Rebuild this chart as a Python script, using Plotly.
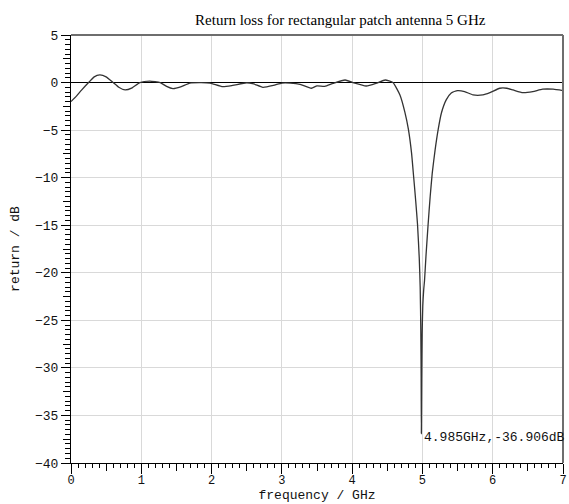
import plotly.graph_objects as go

freq_ghz = [0.0, 0.08, 0.15, 0.25, 0.33, 0.41, 0.5, 0.6, 0.68, 0.77, 0.87, 0.98,
            1.12, 1.27, 1.36, 1.45, 1.56, 1.69, 1.85, 1.98, 2.16, 2.3, 2.5, 2.6,
            2.73, 2.88, 3.0, 3.12, 3.26, 3.42, 3.5, 3.61, 3.73, 3.9, 4.01, 4.2,
            4.35, 4.47, 4.58, 4.68, 4.75, 4.80, 4.845, 4.875, 4.905, 4.93, 4.955,
            4.968, 4.977, 4.982, 4.985, 4.99, 4.996, 5.005, 5.018, 5.03, 5.05,
            5.08, 5.11, 5.14, 5.18, 5.225, 5.27, 5.34, 5.41, 5.5, 5.6, 5.72, 5.86,
            5.96, 6.1, 6.2, 6.29, 6.43, 6.57, 6.71, 6.86, 7.0]
return_db = [-2.0, -1.4, -0.8, 0.0, 0.6, 0.8, 0.6, 0.0, -0.5, -0.78, -0.55, 0.0,
             0.15, 0.0, -0.4, -0.63, -0.45, -0.05, 0.0, -0.05, -0.43, -0.3, -0.02, -0.15,
             -0.5, -0.3, -0.05, -0.05, -0.18, -0.6, -0.35, -0.4, -0.08, 0.27, 0.0, -0.36,
             -0.05, 0.27, 0.0, -1.3, -3.1, -4.9, -7.4, -9.9, -12.5, -14.9, -18.5,
             -21.5, -26.0, -31.0, -36.906, -31.0, -26.5, -23.5, -21.8, -20.8, -18.3,
             -15.0, -12.0, -9.5, -7.1, -4.9, -3.2, -1.8, -1.1, -0.85, -0.95, -1.3, -1.3,
             -1.06, -0.6, -0.6, -0.78, -1.06, -0.95, -0.7, -0.7, -0.85]

x_major = [0, 1, 2, 3, 4, 5, 6, 7]
x_mid = [0.5, 1.5, 2.5, 3.5, 4.5, 5.5, 6.5]
y_major = [5, 0, -5, -10, -15, -20, -25, -30, -35, -40]
y_mid = [2.5, -2.5, -7.5, -12.5, -17.5, -22.5, -27.5, -32.5, -37.5]

marker_f = 4.985
marker_db = -36.906
marker_text = "4.985GHz,-36.906dB"
title_text = "Return loss for rectangular patch antenna 5 GHz"

mono = "Liberation Mono"

fig = go.Figure()
fig.add_trace(go.Scatter(x=freq_ghz, y=return_db, mode="lines",
                         line=dict(color="#333333", width=1.3, shape="spline", smoothing=0.5),
                         showlegend=False, hoverinfo="skip"))
fig.add_trace(go.Scatter(x=[None], y=[None], xaxis="x2", yaxis="y2",
                         showlegend=False, hoverinfo="skip"))

fig.add_annotation(x=marker_f, y=marker_db, text=marker_text, showarrow=False,
                   xanchor="left", yanchor="middle", xshift=1, yshift=-4,
                   font=dict(family=mono, size=13, color="#111111"))

fig.add_shape(type="line", xref="paper", yref="paper", x0=0, x1=1, y0=1, y1=1,
              line=dict(color="#6e6e6e", width=2))
fig.add_shape(type="line", xref="paper", yref="paper", x0=1, x1=1, y0=0, y1=1,
              line=dict(color="#6e6e6e", width=2))

fig.update_layout(
    width=569, height=504,
    margin=dict(l=71, r=6, t=35, b=41),
    paper_bgcolor="white", plot_bgcolor="white",
    title=dict(text=title_text, x=0.598, xref="container", xanchor="center",
               y=0.96, yref="container", yanchor="middle",
               font=dict(family="Liberation Serif", size=15, color="black")),
    xaxis=dict(range=[0, 7], tickvals=x_major, ticks="outside", ticklen=10,
               tickcolor="black", showline=True, linecolor="black", linewidth=1,
               showgrid=True, gridcolor="#d9d9d9", gridwidth=1, zeroline=False,
               tickfont=dict(family=mono, size=12, color="#111111"),
               ticklabelstandoff=-4,
               minor=dict(tick0=0, dtick=0.1, ticks="outside", ticklen=4,
                          tickcolor="black", showgrid=False),
               title=dict(text="frequency / GHz", standoff=0,
                          font=dict(family=mono, size=13, color="#111111")),
               automargin=False, fixedrange=True),
    yaxis=dict(range=[-40, 5], tickvals=y_major, ticks="outside", ticklen=9,
               tickcolor="black", showline=True, linecolor="black", linewidth=1,
               showgrid=True, gridcolor="#d9d9d9", gridwidth=1,
               zeroline=True, zerolinecolor="black", zerolinewidth=1,
               tickfont=dict(family=mono, size=13, color="#111111"),
               minor=dict(tick0=0, dtick=0.5, ticks="outside", ticklen=5,
                          tickcolor="black", showgrid=False),
               title=dict(text="return / dB", standoff=12,
                          font=dict(family=mono, size=13, color="#111111")),
               automargin=False, fixedrange=True),
    xaxis2=dict(overlaying="x", anchor="y", side="bottom", range=[0, 7],
                tickvals=x_mid, ticks="outside", ticklen=7, tickcolor="black",
                showticklabels=False, showgrid=False, zeroline=False, showline=False),
    yaxis2=dict(overlaying="y", anchor="x", side="left", range=[-40, 5],
                tickvals=y_mid, ticks="outside", ticklen=7, tickcolor="black",
                showticklabels=False, showgrid=False, zeroline=False, showline=False),
)

fig.write_html("out.html")
